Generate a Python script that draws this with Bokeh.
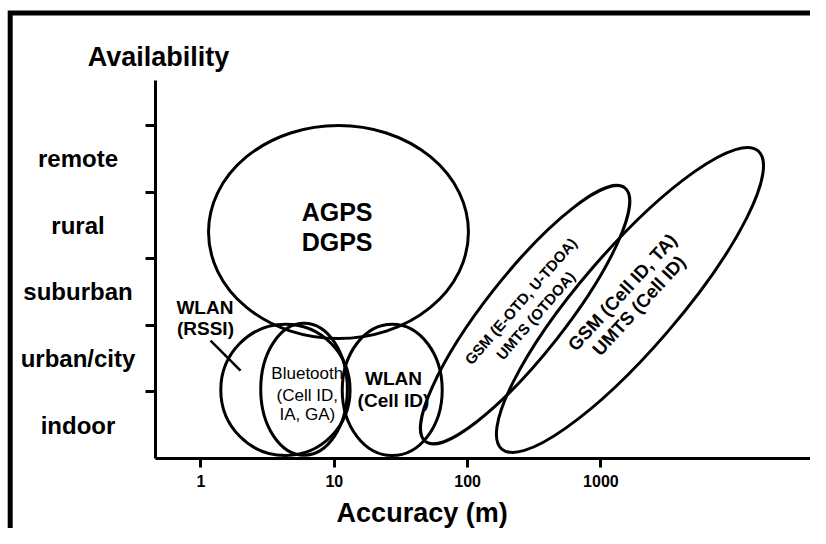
import numpy as np
from bokeh.plotting import figure
from bokeh.models import ColumnDataSource, FixedTicker, Range1d
from bokeh.core.properties import value
from bokeh.embed import file_html
from bokeh.resources import INLINE

# ---------------- data ----------------
x_tick_values = [1, 10, 100, 1000]            # accuracy (m)
x_tick_labels = ["1", "10", "100", "1000"]
categories = ["indoor", "urban/city", "suburban", "rural", "remote"]
category_bounds = [1, 2, 3, 4, 5]

technologies = ["AGPS/DGPS", "WLAN (RSSI)", "Bluetooth", "WLAN (Cell ID)",
                "GSM (E-OTD, U-TDOA)", "GSM (Cell ID, TA)"]
acc_center_m = [10.75, 4.30, 5.93, 27.2, 270.0, 1652.0]      # centre accuracy (m)
avail_center = [3.40, 1.03, 1.04, 1.03, 2.16, 2.38]         # centre availability level
acc_span_decades = [1.95, 0.97, 0.65, 0.75, 2.42, 2.95]     # extent in decades
avail_span = [3.20, 1.97, 1.98, 1.97, 1.20, 1.48]           # extent in levels
tilt_deg = [0, 0, 0, 0, 51.8, 49.3]

label_text = ["AGPS", "DGPS", "WLAN", "(RSSI)", "Bluetooth", "(Cell ID,", "IA, GA)",
              "WLAN", "(Cell ID)", "GSM (E-OTD, U-TDOA)", "UMTS (OTDOA)",
              "GSM (Cell ID, TA)", "UMTS (Cell ID)"]
label_acc_m = [10.5, 10.5, 1.07, 1.08, 6.27, 6.27, 6.27, 27.8, 27.8,
               249.5, 322.8, 1445.0, 1923.0]
label_avail = [3.698, 3.248, 2.267, 1.952, 1.272, 0.946, 0.661, 1.201, 0.871,
               2.362, 2.147, 2.497, 2.297]
label_tilt = [0, 0, 0, 0, 0, 0, 0, 0, 0, 49, 49, 47.5, 47.5]

pointer_acc_m = [1.18, 1.98]
pointer_avail = [1.77, 1.32]

# ---------------- styles / layout ----------------
FONT = "Liberation Sans"
label_sizes = ["25px", "25px", "19px", "19px", "17px", "17px", "17px", "19px", "19px",
               "15px", "15px", "18.5px", "18.5px"]
label_styles = ["bold", "bold", "bold", "bold", "normal", "normal", "normal", "bold", "bold",
                "bold", "bold", "bold", "bold"]

X_AXIS_START = -0.3413        # where the accuracy axis begins (log10 m)
Y_AXIS_TOP = 5.6757           # top of the availability axis
CAT_LABEL_X = -0.9227         # centre of the category names (log10 m)
FRAME_LEFT, FRAME_TOP = -1.4314, 6.6892   # picture border (left / top edges)

p = figure(width=810, height=528,
           x_range=Range1d(-1.5041, 4.5724), y_range=Range1d(-1.0511, 6.8769),
           output_backend="svg", toolbar_location=None,
           min_border_left=0, min_border_top=0, min_border_bottom=0, min_border_right=0)
p.background_fill_color = "white"
p.border_fill_color = "white"
p.outline_line_color = None
p.xgrid.visible = False
p.ygrid.visible = False

# x axis (log10 of accuracy on a linear scale)
xt = [int(round(np.log10(v))) for v in x_tick_values]
xa = p.xaxis[0]
xa.fixed_location = 0
xa.bounds = (X_AXIS_START, 4.5724)
xa.ticker = FixedTicker(ticks=xt)
xa.major_label_overrides = {t: lab for t, lab in zip(xt, x_tick_labels)}
xa.major_label_text_font = FONT
xa.major_label_text_font_size = "16px"
xa.major_label_text_font_style = "bold"
xa.major_label_text_color = "black"
xa.major_label_standoff = 8
xa.major_tick_out = 9
xa.major_tick_in = 0
xa.minor_tick_line_color = None
xa.major_tick_line_width = 3
xa.major_tick_line_color = "black"

ya = p.yaxis[0]
ya.fixed_location = X_AXIS_START
ya.bounds = (0, Y_AXIS_TOP)
ya.ticker = FixedTicker(ticks=[], minor_ticks=category_bounds)
ya.minor_tick_out = 10
ya.minor_tick_in = 0
ya.minor_tick_line_width = 3
ya.minor_tick_line_color = "black"
ya.major_tick_line_color = None

for ax in (xa, ya):
    ax.axis_line_width = 3
    ax.axis_line_color = "black"

# outer border of the picture (only left and top edges fall inside the window)
p.line(x=[FRAME_LEFT, FRAME_LEFT, 20], y=[-20, FRAME_TOP, FRAME_TOP],
       line_color="black", line_width=5, line_join="miter")

# ellipses
esrc = ColumnDataSource(dict(
    x=np.log10(acc_center_m), y=avail_center, w=acc_span_decades, h=avail_span,
    ang=tilt_deg, name=technologies))
p.ellipse(x="x", y="y", width="w", height="h", angle="ang", angle_units="deg",
          source=esrc, fill_color=None, line_color="black", line_width=3)

# pointer line for WLAN (RSSI)
p.line(x=np.log10(pointer_acc_m), y=pointer_avail, line_color="black", line_width=2.5)

# texts inside ellipses
tsrc = ColumnDataSource(dict(
    x=np.log10(label_acc_m), y=label_avail, text=label_text, ang=label_tilt,
    size=label_sizes, style=label_styles))
p.text(x="x", y="y", text="text", angle="ang", angle_units="deg", source=tsrc,
       text_font=value(FONT), text_font_size="size", text_font_style="style",
       text_align="center", text_baseline="middle", text_color="black")

# category names, centred between the tick marks
csrc = ColumnDataSource(dict(
    x=[CAT_LABEL_X] * len(categories), y=[i + 0.5 for i in range(len(categories))],
    text=categories))
p.text(x="x", y="y", text="text", source=csrc,
       text_font=value(FONT), text_font_size="24px", text_font_style="bold",
       text_align="center", text_baseline="middle", text_color="black")

# axis titles
asrc = ColumnDataSource(dict(x=[-0.319, 1.659], y=[6.036, -0.811],
                             text=["Availability", "Accuracy (m)"]))
p.text(x="x", y="y", text="text", source=asrc,
       text_font=value(FONT), text_font_size="27px", text_font_style="bold",
       text_align="center", text_baseline="middle", text_color="black")

open("out.html", "w").write(file_html(p, INLINE))
